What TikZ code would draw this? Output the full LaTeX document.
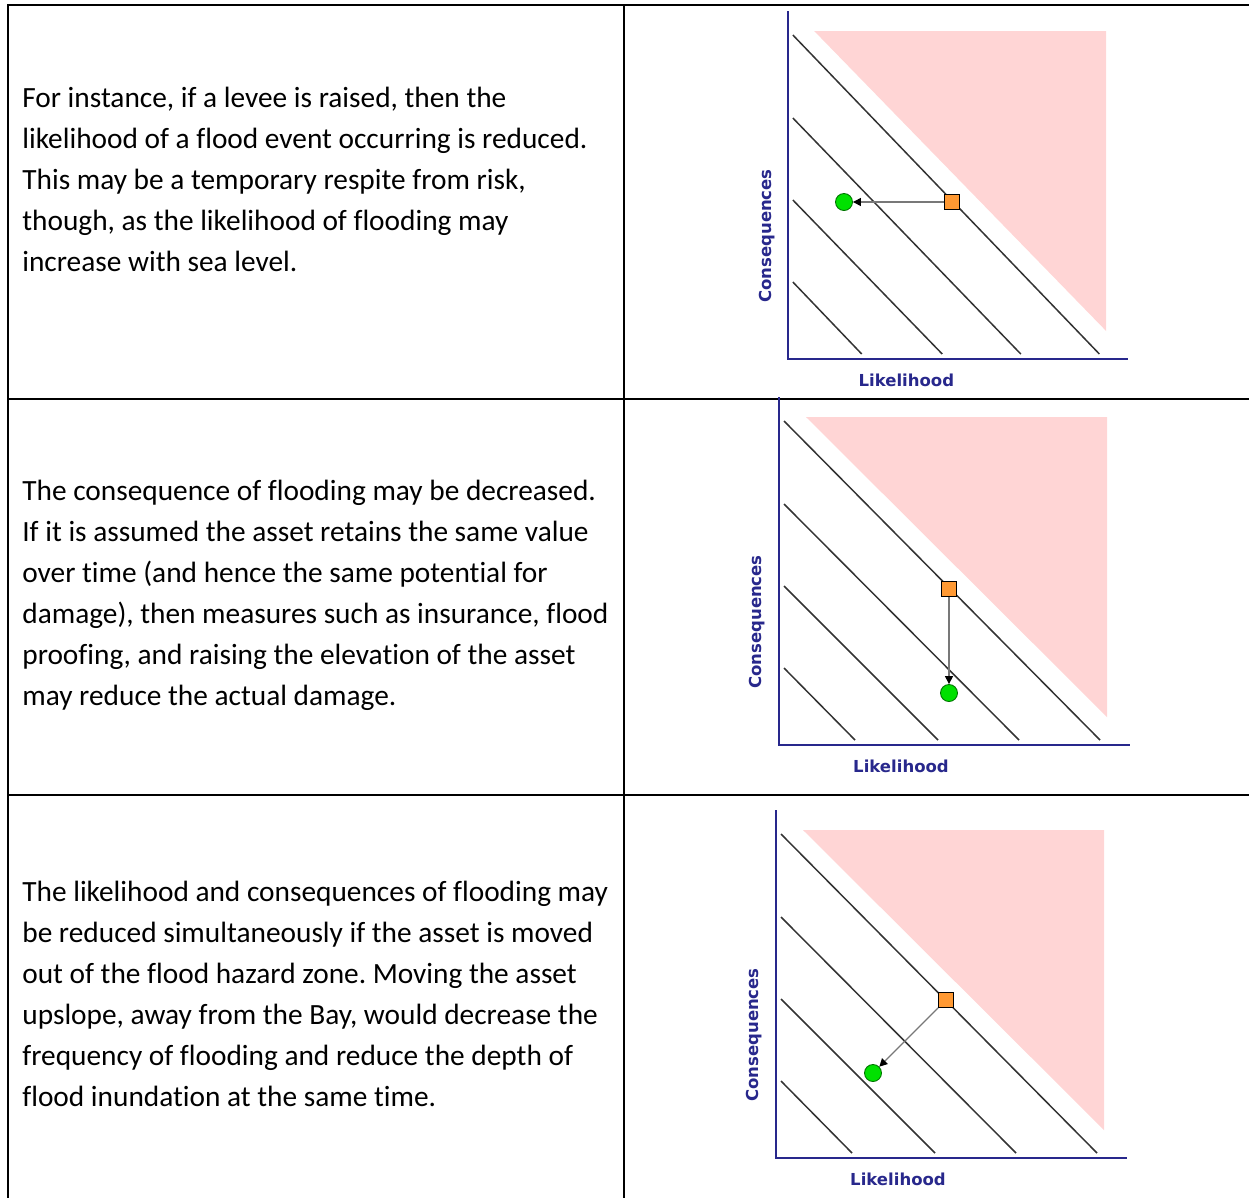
\documentclass[tikz,border=0pt]{standalone}
\usepackage{fontspec}
\setmainfont{Carlito}[Ligatures=NoCommon]
\newfontfamily\chartfont{DejaVu Sans}
\usepackage{tikz}
\usetikzlibrary{arrows.meta}
\definecolor{axisblue}{RGB}{40,40,140}
\definecolor{riskpink}{RGB}{255,213,213}
\definecolor{assetorange}{RGB}{255,153,51}
\definecolor{assetgreen}{RGB}{0,225,0}
\definecolor{movegray}{RGB}{120,120,120}
\frenchspacing

% axes, hazard zone and iso-risk lines of one chart (corner at origin)
\newcommand{\riskgrid}[1]{%
  \fill[riskpink] (27,-328) -- (328,-328) -- (328,-28) -- cycle;
  \foreach \ys/\xe in {-324/321, -241/240, -159/159, -77/76}
    \draw[isoline] (5,\ys) -- (\xe,-5);
  \draw[axis] (0,-348) -- (0,0) -- (351,0);
  \node[axislabel, rotate=90] (cons#1) at (-22,-123) {Consequences};
  \node[axislabel] (like#1) at (122,21) {Likelihood};
}

\begin{document}
\begin{tikzpicture}[x=0.02cm, y=-0.02cm,
  rule/.style={black, line width=1.1pt},
  para/.style={anchor=base west, align=left, inner sep=0pt,
               font=\fontsize{16.7}{23.3}\selectfont},
  axis/.style={axisblue, line width=1.1pt},
  isoline/.style={black!80, line width=0.85pt},
  axislabel/.style={axisblue, inner sep=0pt, font=\chartfont\bfseries\fontsize{9.4}{10}\selectfont},
  before/.style={draw=black, fill=assetorange, line width=0.75pt,
                 minimum size=0.29cm, inner sep=0pt},
  after/.style={circle, draw=green!45!black, fill=assetgreen, line width=0.5pt,
                minimum size=0.34cm, inner sep=0pt},
  move/.style={movegray, line width=0.75pt, -{Triangle[black, length=4.5pt, width=4.5pt]}}]
  \useasboundingbox (0,0) rectangle (1249,1198);

  % table rules
  \draw[rule] (8,4) -- (8,1198);
  \draw[rule] (624,4) -- (624,1198);
  \foreach \yr in {5,399,795}
    \draw[rule] (7,\yr) -- (1249,\yr);

  % left column (anchored at the last baseline)
  \node[para] (txtA) at (22,271)
    {For instance, if a levee is raised, then the\\
     likelihood of a flood event occurring is reduced.\\
     This may be a temporary respite from risk,\\
     though, as the likelihood of flooding may\\
     increase with sea level.};
  \node[para] (txtB) at (22,705)
    {The consequence of flooding may be decreased.\\
     If it is assumed the asset retains the same value\\
     over time (and hence the same potential for\\
     damage), then measures such as insurance, flood\\
     proofing, and raising the elevation of the asset\\
     may reduce the actual damage.};
  \node[para] (txtC) at (22,1106)
    {The likelihood and consequences of flooding may\\
     be reduced simultaneously if the asset is moved\\
     out of the flood hazard zone. Moving the asset\\
     upslope, away from the Bay, would decrease the\\
     frequency of flooding and reduce the depth of\\
     flood inundation at the same time.};

  % chart 1: lower likelihood
  \begin{scope}[shift={(788,359)}, xscale=0.97]
    \riskgrid{A}
  \end{scope}
  \node[before] (oldA) at (952,202) {};
  \node[after] (newA) at (844,202) {};
  \draw[move] (oldA) -- (newA);

  % chart 2: lower consequences
  \begin{scope}[shift={(779,745)}]
    \riskgrid{B}
  \end{scope}
  \node[before] (oldB) at (949,589) {};
  \node[after] (newB) at (949,693) {};
  \draw[move] (oldB) -- (newB);

  % chart 3: both reduced
  \begin{scope}[shift={(776,1158)}]
    \riskgrid{C}
  \end{scope}
  \node[before] (oldC) at (946,1000) {};
  \node[after] (newC) at (873,1073) {};
  \draw[move] (oldC) -- (newC);
\end{tikzpicture}
\end{document}
